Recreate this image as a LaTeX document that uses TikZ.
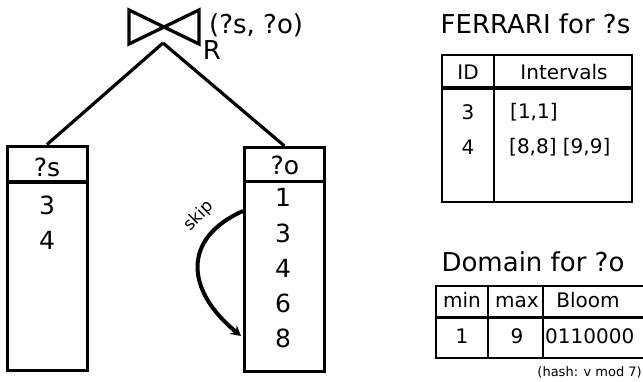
\documentclass[tikz,border=0pt]{standalone}
\usepackage{fontspec}
\setmainfont{DejaVu Sans}
\usetikzlibrary{arrows.meta}
\tikzset{
  big/.style={font=\fontsize{25}{30}\selectfont, inner sep=0pt},
  title/.style={font=\fontsize{26}{31}\selectfont, inner sep=0pt},
  cell/.style={font=\fontsize{20}{24}\selectfont, inner sep=0pt},
  small/.style={font=\fontsize{13}{16}\selectfont, inner sep=0pt},
  colbox/.style={draw, line width=3pt, minimum width=80pt, minimum height=224pt, inner sep=0pt},
  rule/.style={line width=2.8pt},
}
\begin{document}
\begin{tikzpicture}[x=1pt, y=-1pt]
\useasboundingbox (0,0) rectangle (643,381);

% join operator with its label
\draw[line width=3.3pt, line join=miter] (129,10) -- (199,44) -- (199,10) -- (129,44) -- cycle;
\coordinate (join) at (163,43);
\node[title, anchor=west] (vars) at (209,25) {(?s, ?o)};
\node[title] (rel) at (212,50) {R};

% the two input columns
\node[colbox] (scol) at (47,258) {};
\node[colbox] (ocol) at (284.5,259.5) {};
\draw[line width=3.2pt] (join) -- (scol.north);
\draw[line width=3.2pt] (join) -- (ocol.north);

\draw[line width=4.5pt] (scol.west |- 0,182) -- (scol.east |- 0,182);
\node[big] (shead) at (47,167) {?s};
\node[big] (s1) at (47,205) {3};
\node[big] (s2) at (47,240) {4};

\draw[line width=3pt] (ocol.west |- 0,181) -- (ocol.east |- 0,181);
\node[big] (ohead) at (285,165) {?o};
\node[big] (o1) at (283,197) {1};
\node[big] (o2) at (283,233) {3};
\node[big] (o3) at (283,268) {4};
\node[big] (o4) at (283,303) {6};
\node[big] (o5) at (283,338) {8};

% skip arrow
\coordinate (skipfrom) at (243,211);
\coordinate (skipto) at (241,336);
\draw[line width=4pt, -{Stealth[length=10pt, width=11pt]}] (skipfrom) .. controls (182,238) and (185,290) .. (skipto);
\node[font=\fontsize{17}{20}\selectfont, inner sep=0pt, rotate=45] (skiplbl) at (199,216) {skip};

% FERRARI index table
\node[title] (ftitle) at (535.5,24) {FERRARI for ?s};
\draw[rule] (442,55) rectangle (632,202);
\draw[rule] (494,55) -- (494,202);
\draw[line width=3.4pt] (442,88) -- (632,88);
\node[cell] (fid) at (468,72) {ID};
\node[cell] (fint) at (564,72) {Intervals};
\node[cell] (fid1) at (468,112) {3};
\node[cell, anchor=west] (fint1) at (510,112) {[1,1]};
\node[cell] (fid2) at (468,147) {4};
\node[cell, anchor=west] (fint2) at (509,147) {[8,8] [9,9]};

% domain summary table
\node[title] (dtitle) at (533,262) {Domain for ?o};
\draw[rule] (436,286) rectangle (650,358);
\draw[rule] (488,286) -- (488,358);
\draw[rule] (543,286) -- (543,358);
\draw[line width=3pt] (436,317) -- (650,317);
\node[cell, anchor=base] (dmin) at (462,307.5) {min};
\node[cell, anchor=base] (dmax) at (517,307.5) {max};
\node[cell, anchor=base] (dbloom) at (588,307.5) {Bloom};
\node[cell, anchor=base] (dmin1) at (462,343) {1};
\node[cell, anchor=base] (dmax1) at (517,343) {9};
\node[cell, anchor=base west] (dbloom1) at (545,343) {0110000};
\node[small, anchor=east] (hash) at (642,372) {(hash: v mod 7)};
\end{tikzpicture}
\end{document}
